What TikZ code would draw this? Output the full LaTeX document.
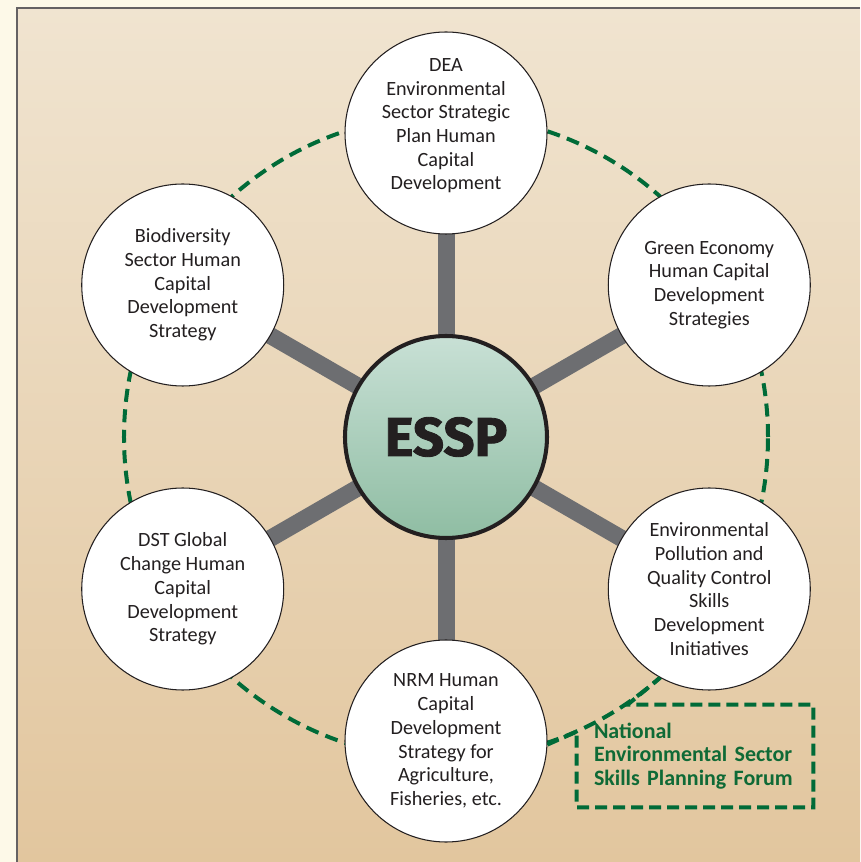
\documentclass[tikz,border=0pt]{standalone}
\usepackage{fontspec}
\setmainfont{Carlito}
\newfontfamily\esspfont{Fira Sans}[BoldFeatures={FakeBold=1.6}]
\usetikzlibrary{backgrounds,calc}
\definecolor{esspgreen}{HTML}{006B38}
\definecolor{esspforum}{HTML}{0F6A36}
\definecolor{esspgray}{HTML}{6D6E71}
\definecolor{esspink}{HTML}{231F20}
\definecolor{esspcream}{HTML}{FDF9E8}
\definecolor{esspaneltop}{HTML}{F0E4D0}
\definecolor{esspanelbot}{HTML}{E2C69E}
\definecolor{esspmint}{HTML}{C8E0D5}
\definecolor{esspsage}{HTML}{8FBDA3}

\begin{document}
\begin{tikzpicture}[
  plan/.style={circle, draw=esspink, line width=0.6pt, fill=white, minimum size=40.4mm,
               inner sep=0pt, align=center, text=esspink, font=\fontsize{11.5}{13.5}\selectfont},
  hub/.style={circle, draw=esspink, line width=2.3pt, top color=esspmint, bottom color=esspsage,
              minimum size=40.4mm, inner sep=0pt, text=esspink,
              font=\esspfont\bfseries\fontsize{31}{31}\selectfont},
  spoke/.style={line width=3.4mm, draw=esspgray},
  ring/.style={draw=esspgreen, line width=0.8mm, dash pattern=on 2.6mm off 1.5mm},
  forumline/.style={draw=esspgreen, line width=0.8mm, dash pattern=on 2.4mm off 1.2mm},
  forumbox/.style={rectangle, minimum height=20.4mm, inner xsep=3.4mm, text width=40.4mm,
                   align=left, text=esspforum, font=\bfseries\fontsize{12.5}{13.4}\selectfont}
]
\useasboundingbox (-8.92,-8.5) rectangle (8.28,8.74);

% panel
\begin{scope}[on background layer]
\fill[esspcream] (-8.92,-8.5) rectangle (8.28,8.74);
\shade[top color=esspaneltop, bottom color=esspanelbot] (-8.58,-8.5) rectangle (8.28,8.58);
\draw[esspink!70, line width=0.6pt] (-8.58,-8.5) -- (-8.58,8.58) -- (8.28,8.58);
\end{scope}

\node[hub] (essp) at (0,0) {ESSP};
\node[plan] (dea) at (90:6.08) {DEA\\Environmental\\Sector Strategic\\Plan Human\\Capital\\Development\\[-1.2mm]\mbox{}};
\node[plan] (greeneco) at (30:6.08) {Green Economy\\Human Capital\\Development\\Strategies};
\node[plan] (pollution) at (-30:6.08) {Environmental\\Pollution and\\Quality Control\\Skills\\Development\\Initiatives};
\node[plan] (nrm) at (-90:6.08) {NRM Human\\Capital\\Development\\Strategy for\\Agriculture,\\Fisheries, etc.};
\node[plan] (dst) at (210:6.08) {DST Global\\Change Human\\Capital\\Development\\Strategy};
\node[plan] (biodiv) at (150:6.08) {Biodiversity\\Sector Human\\Capital\\Development\\Strategy};

\node[forumbox] (forum) at (4.98,-6.38) {National\\Environmental Sector\\Skills Planning Forum};

\begin{scope}[on background layer]
\draw[ring] (essp.center) circle (6.44);
\foreach \n in {dea,greeneco,pollution,nrm,dst,biodiv}
  \draw[spoke] (essp.center) -- (\n.center);
\end{scope}

\draw[forumline] (nrm.-2) -- ([yshift=-5.4mm]forum.north west) -- (forum.south west)
  -- (forum.south east) -- (forum.north east) -- ([xshift=10.2mm]forum.north west)
  -- (pollution.241);
\end{tikzpicture}
\end{document}
